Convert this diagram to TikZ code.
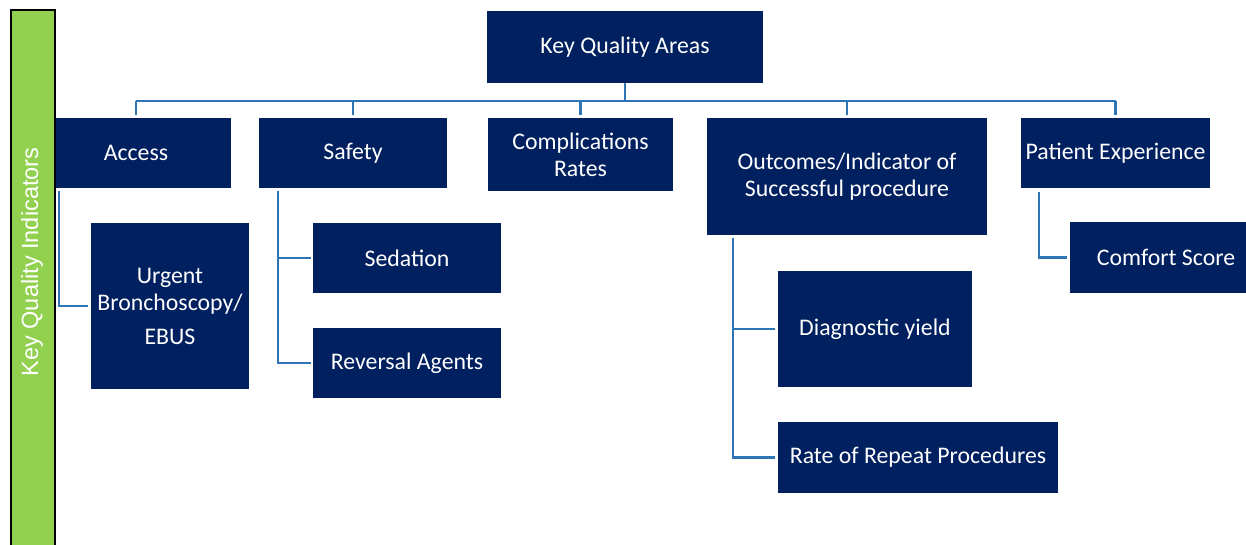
\documentclass[tikz,border=0pt]{standalone}
\usepackage{fontspec}
\setmainfont{Carlito}
\newfontfamily\barfont{Liberation Sans}
\definecolor{navy}{HTML}{002060}
\definecolor{linkblue}{HTML}{2E75B6}
\definecolor{bargreen}{HTML}{92D050}
\begin{document}
\begin{tikzpicture}[x=1pt,y=-1pt,
  kbox/.style={fill=navy,text=white,inner sep=0pt,align=center,
    font=\fontsize{23.8}{27}\selectfont},
  link/.style={draw=linkblue,line width=2.2pt}]
\useasboundingbox (0,0) rectangle (1246,544);
\clip (0,0) rectangle (1246,544);
% boxes (positions are centres)
\node[kbox,minimum width=276,minimum height=72] (kqa) at (625,47) {Key Quality Areas};
\node[kbox,minimum width=190,minimum height=70] (access) at (136,153) {Access};
\node[kbox,minimum width=188,minimum height=70] (safety) at (353,153) {Safety};
\node[kbox,minimum width=185,minimum height=73] (compl) at (580.5,154.5) {Complications\\Rates};
\node[kbox,minimum width=280,minimum height=117] (outc) at (847,176.5) {Outcomes/Indicator of\\Successful procedure};
\node[kbox,minimum width=189,minimum height=70] (patient) at (1115.5,153) {Patient Experience};
\node[kbox,minimum width=158,minimum height=166] (urgent) at (170,306) {Urgent\\Bronchoscopy/\\[7pt]EBUS};
\node[kbox,minimum width=188,minimum height=70] (sedation) at (407,258) {Sedation};
\node[kbox,minimum width=188,minimum height=70] (reversal) at (407,363) {Reversal Agents};
\node[kbox,minimum width=194,minimum height=116] (diag) at (875,329) {Diagnostic yield};
\node[kbox,minimum width=280,minimum height=71] (rate) at (918,457.5) {Rate of Repeat Procedures};
\node[kbox,minimum width=192,minimum height=71] (comfort) at (1166,257.5) {Comfort Score};
% bus
\coordinate (bus) at (625,101);
\draw[link] (kqa.south) -- (bus);
\draw[link] (access.north |- bus) -- (patient.north |- bus);
\foreach \n in {access,safety,compl,outc,patient}
  \draw[link,shorten >=3pt] (\n.north |- bus) -- (\n.north);
% children
\coordinate (acc0) at (59,191);
\coordinate (saf0) at (278,191);
\coordinate (out0) at (733,238);
\coordinate (pat0) at (1039,192);
\draw[link,shorten >=3pt] (acc0) |- (urgent.west);
\draw[link,shorten >=2pt] (saf0) |- (reversal.west);
\draw[link,shorten >=2pt] (saf0 |- sedation.west) -- (sedation.west);
\draw[link,shorten >=3pt] (out0) |- (rate.west);
\draw[link,shorten >=3pt] (out0 |- diag.west) -- (diag.west);
\draw[link,shorten >=3pt] (pat0) |- (comfort.west);
% side bar
\node[draw=black,line width=1.5pt,fill=bargreen,minimum width=44,minimum height=545,inner sep=0pt,anchor=north west] (bar) at (10,9) {};
\node[text=white,rotate=90,font=\barfont\fontsize{23.5}{28}\selectfont] (bartext) at (32,262) {Key Quality Indicators};
\end{tikzpicture}
\end{document}
